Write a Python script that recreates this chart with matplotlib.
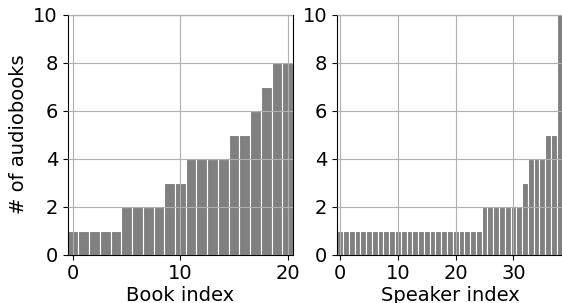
import numpy as np
import matplotlib
matplotlib.use('Agg')
import matplotlib.pyplot as plt

# audiobooks per book, sorted
book_counts = [1, 1, 1, 1, 1, 2, 2, 2, 2, 3, 3, 4, 4, 4, 4, 5, 5, 6, 7, 8, 8]
# audiobooks per speaker, sorted
speaker_counts = [1]*25 + [2]*7 + [3] + [4]*3 + [5]*2 + [10]

panels = [(book_counts, 'Book index', [0, 10, 20]),
          (speaker_counts, 'Speaker index', [0, 10, 20, 30])]
yticks = [0, 2, 4, 6, 8, 10]

plt.rcParams['font.size'] = 14

fig = plt.figure(figsize=(5.62, 3.03), dpi=100)
positions = [[0.1205, 0.160, 0.401, 0.792],
             [0.600, 0.160, 0.401, 0.792]]

for i, (counts, xlabel, xticks) in enumerate(panels):
    ax = fig.add_axes(positions[i])
    idx = np.arange(len(counts))
    ax.bar(idx, counts, width=1.0, color='gray', edgecolor='white', linewidth=0.8)
    ax.set_xlim(-0.5, len(counts) - 0.5)
    ax.set_ylim(0, 10)
    ax.set_xticks(xticks)
    ax.set_yticks(yticks)
    ax.grid(True, color='#b0b0b0', linewidth=0.8)
    ax.set_axisbelow(False)
    ax.set_xlabel(xlabel, labelpad=2)
    if i == 0:
        ax.set_ylabel('# of audiobooks')

fig.savefig('out.png', dpi=100)
